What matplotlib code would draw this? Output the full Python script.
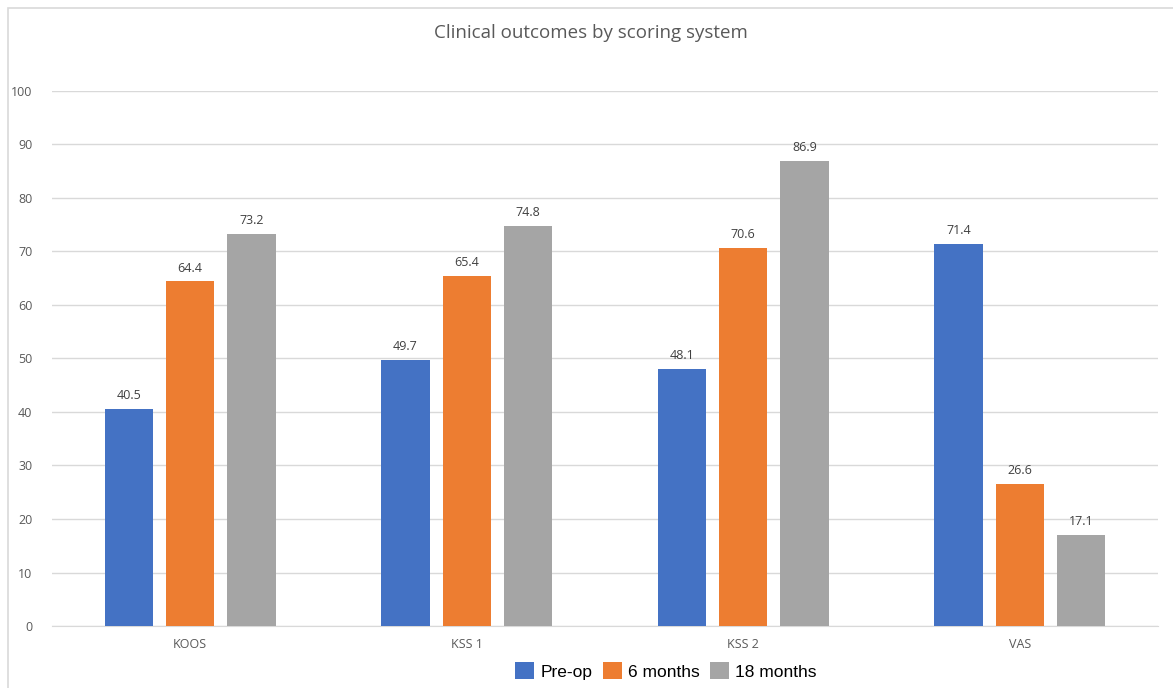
import matplotlib
matplotlib.use("Agg")
import matplotlib.pyplot as plt
from matplotlib.patches import Rectangle
import numpy as np

categories = ["KOOS", "KSS 1", "KSS 2", "VAS"]
series_names = ["Pre-op", "6 months", "18 months"]
pre_op = [40.5, 49.7, 48.1, 71.4]
six_months = [64.4, 65.4, 70.6, 26.6]
eighteen_months = [73.2, 74.8, 86.9, 17.1]
y_ticks = [0, 10, 20, 30, 40, 50, 60, 70, 80, 90, 100]

colors = ["#4472C4", "#ED7D31", "#A5A5A5"]
text_gray = "#595959"

fig = plt.figure(figsize=(11.73, 6.88), dpi=100)
fig.patch.set_facecolor("white")

# outer chart frame
fig.patches.append(Rectangle((8 / 1173, -0.05), 1.2, 1 - 8 / 688 + 0.05,
                             transform=fig.transFigure, fill=False,
                             edgecolor="#D9D9D9", linewidth=1.2))

ax = fig.add_axes([52 / 1173, 1 - 626 / 688, (1158 - 52) / 1173, (626 - 91) / 688])

x = np.arange(len(categories))
width = 0.175
pitch = 0.222
for i, (vals, name) in enumerate(zip([pre_op, six_months, eighteen_months], series_names)):
    pos = x + (i - 1) * pitch
    ax.bar(pos, vals, width, color=colors[i], label=name, zorder=3)
    for xp, v in zip(pos, vals):
        ax.text(xp, v + 1.3, f"{v:.1f}", ha="center", va="bottom",
                fontsize=9, color="#404040", family="Open Sans")

ax.set_xlim(-0.5, len(categories) - 0.5)
ax.set_ylim(0, 100)
ax.set_yticks(y_ticks)
ax.set_xticks(x)
ax.set_xticklabels(categories)
ax.grid(axis="y", color="#D9D9D9", linewidth=1, zorder=0)
for s in ax.spines.values():
    s.set_visible(False)
ax.spines["bottom"].set_visible(True)
ax.spines["bottom"].set_color("#D9D9D9")
ax.tick_params(axis="both", length=0, labelsize=9, labelcolor=text_gray)
ax.tick_params(axis="y", pad=14)
ax.tick_params(axis="x", pad=9)
for lab in ax.get_xticklabels() + ax.get_yticklabels():
    lab.set_family("Open Sans")

fig.text(591 / 1173, 1 - 33 / 688, "Clinical outcomes by scoring system",
         ha="center", va="center", fontsize=13.5, color=text_gray, family="Open Sans")

leg = fig.legend(loc="center", bbox_to_anchor=(666 / 1173, 1 - 671 / 688), ncol=3,
                 frameon=False, prop={"family": "Liberation Sans", "size": 12.5},
                 handlelength=1.1, handleheight=1.1, handletextpad=0.35,
                 columnspacing=0.6)
for t in leg.get_texts():
    t.set_color("#000000")

fig.savefig("out.png", dpi=100)
